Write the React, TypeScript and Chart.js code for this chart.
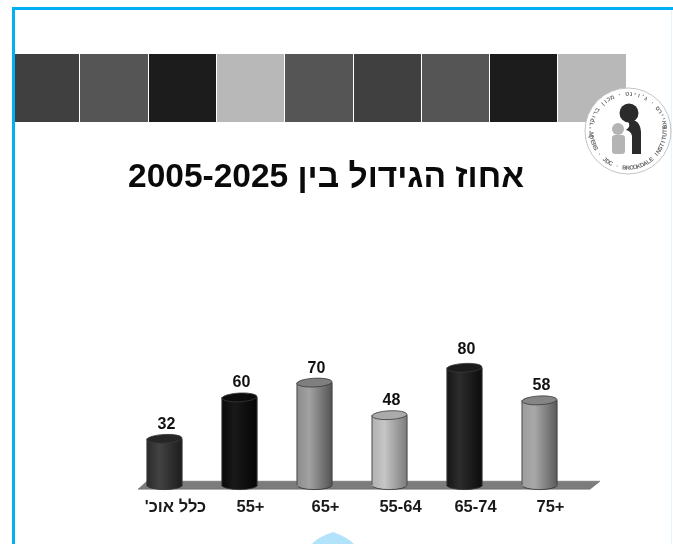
import React, { useEffect, useRef } from "react";
import { Chart, registerables } from "chart.js";

Chart.register(...registerables);

const titleText = "אחוז הגידול בין 2005-2025";
const categories = ["כלל אוכ'", "55+", "65+", "55-64", "65-74", "75+"];
const growthPercent = [32, 60, 70, 48, 80, 58];
const barLeftShade = ["#2a2a2a", "#080808", "#8c8c8c", "#b0b0b0", "#161616", "#9c9c9c"];
const barMidShade = ["#434343", "#191919", "#a2a2a2", "#c6c6c6", "#2c2c2c", "#a8a8a8"];
const barRightShade = ["#1c1c1c", "#040404", "#545454", "#7c7c7c", "#0c0c0c", "#5c5c5c"];
const capShade = ["#262626", "#0c0c0c", "#7f7f7f", "#ababab", "#1b1b1b", "#858585"];
const bandColors = ["#404040", "#555555", "#1c1c1c", "#b8b8b8", "#555555", "#404040", "#555555", "#1c1c1c", "#b8b8b8"];
const ringHebrew = "מאיירס · ג'וינט · מכון ברוקדייל";
const ringEnglish = "MYERS · JDC · BROOKDALE INSTITUTE";

const FONT = '"Liberation Sans", Arial, sans-serif';
const CAP_RY = 4.4;
const BAR_WIDTH = 35;

// Runs of Hebrew need a right-to-left embedding on the left-to-right canvas.
const rtl = (s: string) => (/[\u0590-\u05ff]/.test(s) ? `\u202B${s}\u202C` : s);

function barGradient(ctx: CanvasRenderingContext2D, x: number, i: number) {
  const half = BAR_WIDTH / 2;
  const g = ctx.createLinearGradient(x - half, 0, x + half, 0);
  g.addColorStop(0, barLeftShade[i]);
  g.addColorStop(0.35, barMidShade[i]);
  g.addColorStop(1, barRightShade[i]);
  return g;
}

function arcText(ctx: CanvasRenderingContext2D, text: string, cx: number, cy: number, r: number, start: number, step: number, flip: boolean) {
  [...text].forEach((ch, i) => {
    const a = start + i * step;
    ctx.save();
    ctx.translate(cx + r * Math.cos(a), cy + r * Math.sin(a));
    ctx.rotate(flip ? a - Math.PI / 2 : a + Math.PI / 2);
    ctx.fillText(ch, 0, 0);
    ctx.restore();
  });
}

function drawLogo(ctx: CanvasRenderingContext2D) {
  const cx = 628;
  const cy = 131;
  ctx.save();
  ctx.beginPath();
  ctx.arc(cx, cy, 43, 0, Math.PI * 2);
  ctx.fillStyle = "#ffffff";
  ctx.fill();
  ctx.lineWidth = 1;
  ctx.strokeStyle = "#c4c4c4";
  ctx.stroke();

  ctx.fillStyle = "#6a6a6a";
  ctx.font = `bold 6px ${FONT}`;
  ctx.textAlign = "center";
  ctx.textBaseline = "middle";
  arcText(ctx, ringHebrew, cx, cy, 37, -0.12, -0.105, false);
  arcText(ctx, ringEnglish, cx, cy, 37, Math.PI - 0.1, -0.098, true);

  // Smaller grey figure
  ctx.fillStyle = "#b4b4b4";
  ctx.beginPath();
  ctx.arc(618, 129, 6, 0, Math.PI * 2);
  ctx.fill();
  ctx.beginPath();
  ctx.roundRect(612, 135, 13, 19, 3);
  ctx.fill();

  // Taller dark figure leaning over it
  ctx.fillStyle = "#2b2b2b";
  ctx.beginPath();
  ctx.arc(629, 113, 9.5, 0, Math.PI * 2);
  ctx.fill();
  ctx.beginPath();
  ctx.moveTo(627, 120);
  ctx.quadraticCurveTo(640, 118, 641, 132);
  ctx.lineTo(641, 154);
  ctx.lineTo(632, 154);
  ctx.lineTo(632, 136);
  ctx.quadraticCurveTo(631, 131, 626, 130);
  ctx.quadraticCurveTo(632, 126, 627, 120);
  ctx.fill();
  ctx.restore();
}

const slideDressing = {
  id: "slideDressing",
  afterLayout(chart: any) {
    // The heading sits centred on the slide rather than on the plot area
    chart.titleBlock.left -= 52;
  },
  beforeDraw(chart: Chart) {
    const { ctx, width, height } = chart;
    ctx.save();
    ctx.fillStyle = "#ffffff";
    ctx.fillRect(0, 0, width, height);

    // Shape peeking in at the bottom edge
    ctx.fillStyle = "#b3e3fa";
    ctx.beginPath();
    ctx.moveTo(312, height);
    ctx.quadraticCurveTo(318, 537, 333, 532);
    ctx.quadraticCurveTo(347, 537, 354, height);
    ctx.closePath();
    ctx.fill();

    // Band of squares, running in under the frame
    const origin = 11;
    const cell = 68.3;
    bandColors.forEach((c, i) => {
      ctx.fillStyle = c;
      const x = Math.round(origin + i * cell) + 1;
      const next = Math.round(origin + (i + 1) * cell);
      const from = Math.max(x, 15);
      ctx.fillRect(from, 54, next - from, 68);
    });

    // Slide frame: open along the bottom, hairline on the right
    ctx.fillStyle = "#00b0f0";
    ctx.fillRect(12, 7, width - 12, 3);
    ctx.fillRect(12, 7, 3, height - 7);
    ctx.fillStyle = "#e4f5fd";
    ctx.fillRect(width - 2, 10, 1, height - 10);
    ctx.restore();
    drawLogo(ctx);
  },
  beforeDatasetsDraw(chart: Chart) {
    // Slanted floor the cylinders stand on
    const { ctx, chartArea } = chart;
    const { left, right, bottom } = chartArea;
    ctx.save();
    ctx.fillStyle = "#7c7c7c";
    ctx.strokeStyle = "#5c5c5c";
    ctx.lineWidth = 0.5;
    ctx.beginPath();
    ctx.moveTo(left + 11, bottom + 3);
    ctx.lineTo(right + 13, bottom + 3);
    ctx.lineTo(right + 23, bottom - 5);
    ctx.lineTo(left + 20, bottom - 5);
    ctx.closePath();
    ctx.fill();
    ctx.stroke();
    ctx.restore();

    // Rounded foot under each cylinder
    const meta = chart.getDatasetMeta(0);
    ctx.save();
    meta.data.forEach((bar: any, i: number) => {
      ctx.fillStyle = barGradient(ctx, bar.x, i);
      ctx.strokeStyle = "#303030";
      ctx.lineWidth = 0.8;
      ctx.beginPath();
      ctx.ellipse(bar.x, bottom - 1, BAR_WIDTH / 2, CAP_RY, 0, 0, Math.PI);
      ctx.fill();
      ctx.stroke();
    });
    ctx.restore();
  },
  afterDatasetsDraw(chart: Chart) {
    const { ctx } = chart;
    const meta = chart.getDatasetMeta(0);
    const tallest = Math.max(...growthPercent);
    ctx.save();
    meta.data.forEach((bar: any, i: number) => {
      const half = BAR_WIDTH / 2;
      const bottom = chart.chartArea.bottom;
      // Cylinder outline, then the lid
      ctx.strokeStyle = "#3a3a3a";
      ctx.lineWidth = 0.8;
      ctx.beginPath();
      ctx.moveTo(bar.x - half, bar.y);
      ctx.lineTo(bar.x - half, bottom - 1);
      ctx.moveTo(bar.x + half, bar.y);
      ctx.lineTo(bar.x + half, bottom - 1);
      ctx.stroke();

      ctx.fillStyle = capShade[i];
      ctx.beginPath();
      ctx.ellipse(bar.x, bar.y, half, CAP_RY, -0.05, 0, Math.PI * 2);
      ctx.fill();
      ctx.stroke();

      // Value above the lid; the tallest one stands a little clear of it
      const lift = growthPercent[i] === tallest ? 14 : 10;
      ctx.fillStyle = "#111111";
      ctx.font = `bold 16px ${FONT}`;
      ctx.textAlign = "center";
      ctx.textBaseline = "middle";
      ctx.fillText(String(growthPercent[i]), bar.x + 2, bar.y - CAP_RY - lift);
    });
    ctx.restore();
  },
};

export default function App() {
  const ref = useRef<HTMLCanvasElement>(null);

  useEffect(() => {
    const chart = new Chart(ref.current!, {
      type: "bar",
      data: {
        labels: categories,
        datasets: [
          {
            data: growthPercent,
            barThickness: BAR_WIDTH,
            borderWidth: 0,
            backgroundColor: (c: any) => {
              const i = c.dataIndex;
              const x = i === undefined ? NaN : c.chart.scales.x?.getPixelForValue(i);
              return Number.isFinite(x) ? barGradient(c.chart.ctx, x, i) : barMidShade[i ?? 0];
            },
          },
        ],
      },
      options: {
        responsive: false,
        animation: false,
        layout: { padding: { left: 127, right: 96, top: 158, bottom: 24 } },
        plugins: {
          legend: { display: false },
          tooltip: { enabled: false },
          title: {
            display: true,
            text: rtl(titleText),
            color: "#0a0a0a",
            font: { family: FONT, size: 33.5, weight: "bold" },
            padding: { top: 0, bottom: 140 },
          },
        },
        scales: {
          x: {
            grid: { display: false },
            border: { display: false },
            ticks: {
              color: "#1a1a1a",
              padding: 3,
              labelOffset: 11,
              maxRotation: 0,
              autoSkip: false,
              font: { family: FONT, size: 16.5, weight: "bold" },
              callback: (_v: any, i: number) => rtl(categories[i]),
            },
          },
          y: { display: false, min: 0, max: 100 },
        },
      },
      plugins: [slideDressing],
    } as any);
    // Second pass so the per-bar gradients are built from the settled scale
    chart.update();
    return () => chart.destroy();
  }, []);

  return (
    <div style={{ position: "absolute", left: 0, top: 0 }}>
      <canvas ref={ref} width={673} height={544} style={{ display: "block" }} />
    </div>
  );
}
